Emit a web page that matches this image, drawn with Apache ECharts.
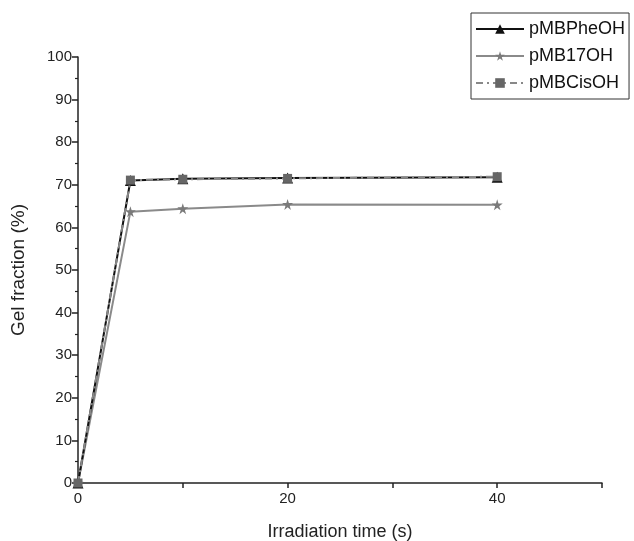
<!DOCTYPE html>
<html>
<head>
<meta charset="utf-8">
<script src="https://cdn.jsdelivr.net/npm/echarts@6/dist/echarts.min.js"></script>
<style>
  html, body { margin: 0; padding: 0; background: #fff; }
  #gel { width: 634px; height: 541px; }
</style>
</head>
<body>
<div id="gel"></div>
<script>
// 照射时间 (s)
var times = [0, 5, 10, 20, 40];
var pheOH = [0, 71.0, 71.4, 71.6, 71.8];
var b17OH = [0, 63.7, 64.4, 65.4, 65.3];
var cisOH = [0, 71.1, 71.3, 71.5, 71.9];
var xLabels = [0, 20, 40];

var star = 'path://M50,0 L61,35 L98,35 L68,57 L79,92 L50,70 L21,92 L32,57 L2,35 L39,35 Z';

function pairs(ys) {
  return times.map(function (t, i) { return [t, ys[i]]; });
}

var chart = echarts.init(document.getElementById('gel'));
var font = 'Liberation Sans, Arial, sans-serif';

var option = {
  animation: false,
  textStyle: { fontFamily: font },
  grid: { left: 78, right: 32, top: 57, bottom: 58, outerBoundsMode: 'none' },
  legend: {
    orient: 'vertical',
    left: 471,
    top: 13,
    padding: [7, 4, 7, 4],
    itemGap: 9,
    itemWidth: 48,
    itemHeight: 12,
    borderColor: '#333',
    borderWidth: 1,
    textStyle: { fontSize: 18, color: '#111', fontFamily: font },
    data: ['pMBPheOH', 'pMB17OH', 'pMBCisOH']
  },
  xAxis: {
    type: 'value',
    min: 0,
    max: 50,
    interval: 10,
    name: 'Irradiation time (s)',
    nameLocation: 'middle',
    nameGap: 40,
    nameTextStyle: { fontSize: 18, color: '#222' },
    axisLine: { lineStyle: { color: '#222', width: 1.5 } },
    axisTick: { length: 5, lineStyle: { color: '#222', width: 1.5 } },
    axisLabel: {
      fontSize: 15, color: '#222', margin: 8,
      formatter: function (v) { return xLabels.indexOf(v) >= 0 ? String(v) : ''; }
    },
    splitLine: { show: false }
  },
  yAxis: {
    type: 'value',
    min: 0,
    max: 100,
    interval: 10,
    name: 'Gel fraction (%)',
    nameLocation: 'middle',
    nameGap: 50,
    nameTextStyle: { fontSize: 19, color: '#222' },
    axisLine: { show: true, lineStyle: { color: '#222', width: 1.5 } },
    axisTick: { show: true, length: 6, lineStyle: { color: '#222', width: 1.5 } },
    minorTick: { show: true, splitNumber: 2, length: 3, lineStyle: { color: '#222', width: 1.2 } },
    axisLabel: { fontSize: 15, color: '#222', margin: 6 },
    splitLine: { show: false }
  },
  series: [
    {
      name: 'pMBPheOH',
      type: 'line',
      data: pairs(pheOH),
      symbol: 'triangle',
      symbolSize: 11,
      lineStyle: { color: '#111', width: 2 },
      itemStyle: { color: '#111' },
      z: 3
    },
    {
      name: 'pMB17OH',
      type: 'line',
      data: pairs(b17OH),
      symbol: star,
      symbolSize: 11,
      lineStyle: { color: '#8a8a8a', width: 2 },
      itemStyle: { color: '#7a7a7a' },
      z: 2
    },
    {
      name: 'pMBCisOH',
      type: 'line',
      data: pairs(cisOH),
      symbol: 'rect',
      symbolSize: 9,
      lineStyle: { color: '#888', width: 2, type: [7, 4, 2, 4] },
      itemStyle: { color: '#666' },
      z: 4
    }
  ]
};

chart.setOption(option);
</script>
</body>
</html>
